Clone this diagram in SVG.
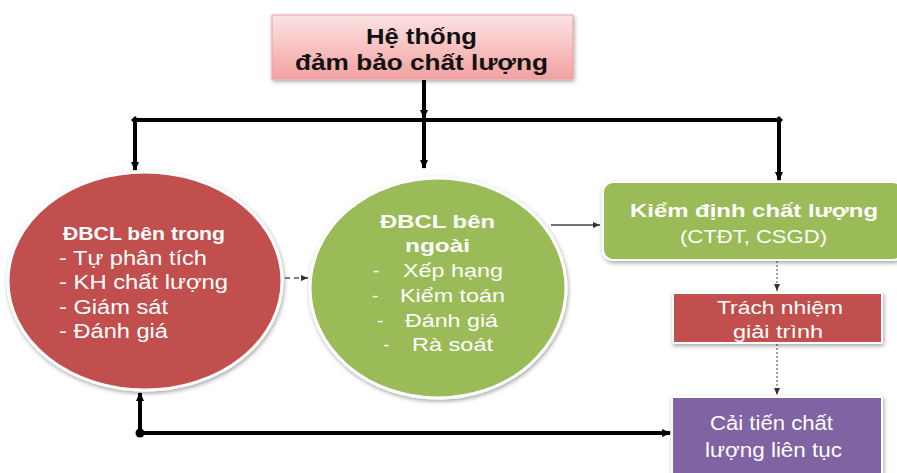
<svg xmlns="http://www.w3.org/2000/svg" width="897" height="473" viewBox="0 0 897 473">
<defs>
<linearGradient id="pink" x1="0" y1="0" x2="0" y2="1">
<stop offset="0" stop-color="#fce3e3"/>
<stop offset="1" stop-color="#f3a1a1"/>
</linearGradient>
<filter id="sh" x="-10%" y="-10%" width="120%" height="130%">
<feDropShadow dx="1" dy="2" stdDeviation="2" flood-color="#000" flood-opacity="0.35"/>
</filter>
<marker id="ah" markerWidth="10" markerHeight="10" refX="8" refY="5" orient="auto-start-reverse" markerUnits="userSpaceOnUse">
<path d="M0,1 L9,5 L0,9 Z" fill="#000"/>
</marker>
<marker id="ahs" markerWidth="8" markerHeight="8" refX="7" refY="4" orient="auto" markerUnits="userSpaceOnUse">
<path d="M0,1 L7,4 L0,7 Z" fill="#333"/>
</marker>
<marker id="dia" markerWidth="8" markerHeight="8" refX="4" refY="4" orient="auto" markerUnits="userSpaceOnUse">
<path d="M4,0 L8,4 L4,8 L0,4 Z" fill="#000"/>
</marker>
</defs>
<style>
text{font-family:"Liberation Sans",Arial,sans-serif;}
.w{fill:#fff;}
.b{font-weight:bold;}
.thick{stroke:#000;stroke-width:4;fill:none;}
.thin{stroke:#444;stroke-width:1.3;fill:none;}
.dash{stroke:#555;stroke-width:1.3;stroke-dasharray:5 4;fill:none;}
.dot{stroke:#666;stroke-width:1.2;stroke-dasharray:2 2;fill:none;}
</style>
<rect width="897" height="473" fill="#fff"/>

<g id="connectors">
<line class="thick" x1="424" y1="80" x2="424" y2="118" marker-end="url(#ah)"/>
<line class="thick" x1="135" y1="120" x2="779" y2="120" marker-start="url(#dia)" marker-end="url(#dia)"/>
<line class="thick" x1="135" y1="120" x2="135" y2="170" marker-end="url(#ah)"/>
<line class="thick" x1="424" y1="120" x2="424" y2="168" marker-end="url(#ah)"/>
<line class="thick" x1="779" y1="120" x2="779" y2="180" marker-end="url(#ah)"/>
<line class="dash" x1="285" y1="278" x2="308" y2="278" marker-end="url(#ahs)"/>
<line class="thin" x1="551" y1="225" x2="600" y2="225" marker-end="url(#ahs)"/>
<line class="dot" x1="777" y1="261" x2="777" y2="291" marker-end="url(#ahs)"/>
<line class="dot" x1="777" y1="344" x2="777" y2="395" marker-end="url(#ahs)"/>
<polyline class="thick" points="670,433 140,433 140,393" marker-start="url(#ah)" marker-end="url(#ah)"/>
<circle cx="140" cy="433" r="4.5" fill="#000"/>
</g>

<g id="title" filter="url(#sh)">
<rect x="272" y="15" width="301" height="64" fill="url(#pink)" stroke="#e9a0a0" stroke-width="1"/>
</g>
<g id="title-text">
<text x="366" y="44" class="b" font-size="22" fill="#111" textLength="111" lengthAdjust="spacingAndGlyphs">Hệ thống</text>
<text x="295" y="70" class="b" font-size="22" fill="#111" textLength="253" lengthAdjust="spacingAndGlyphs">đảm bảo chất lượng</text>
</g>

<g id="internal">
<ellipse cx="145" cy="281" rx="137" ry="109" fill="#c0504d" stroke="#fff" stroke-width="3" filter="url(#sh)"/>
<text x="63" y="240" class="b w" font-size="18" textLength="162" lengthAdjust="spacingAndGlyphs">ĐBCL bên trong</text>
<text x="59" y="265" class="w" font-size="20" textLength="148" lengthAdjust="spacingAndGlyphs">- Tự phân tích</text>
<text x="59" y="289" class="w" font-size="20" textLength="169" lengthAdjust="spacingAndGlyphs">- KH chất lượng</text>
<text x="59" y="314" class="w" font-size="20" textLength="109" lengthAdjust="spacingAndGlyphs">- Giám sát</text>
<text x="59" y="338" class="w" font-size="20" textLength="109" lengthAdjust="spacingAndGlyphs">- Đánh giá</text>
</g>

<g id="external">
<ellipse cx="438" cy="288" rx="128" ry="110" fill="#9bbb59" stroke="#fff" stroke-width="3" filter="url(#sh)"/>
<text x="380" y="228" class="b w" font-size="19" textLength="115" lengthAdjust="spacingAndGlyphs">ĐBCL bên</text>
<text x="405" y="252" class="b w" font-size="19" textLength="65" lengthAdjust="spacingAndGlyphs">ngoài</text>
<text y="277" class="w" font-size="19"><tspan x="373">-</tspan><tspan x="403" textLength="100" lengthAdjust="spacingAndGlyphs">Xếp hạng</tspan></text>
<text y="302" class="w" font-size="19"><tspan x="372">-</tspan><tspan x="400" textLength="105" lengthAdjust="spacingAndGlyphs">Kiểm toán</tspan></text>
<text y="327" class="w" font-size="19"><tspan x="377">-</tspan><tspan x="405" textLength="93" lengthAdjust="spacingAndGlyphs">Đánh giá</tspan></text>
<text y="351" class="w" font-size="19"><tspan x="383">-</tspan><tspan x="412" textLength="81" lengthAdjust="spacingAndGlyphs">Rà soát</tspan></text>
</g>

<g id="accreditation">
<rect x="603" y="182" width="300" height="78" rx="10" fill="#9bbb59" stroke="#fff" stroke-width="2" filter="url(#sh)"/>
<text x="630" y="217" class="b w" font-size="19" textLength="248" lengthAdjust="spacingAndGlyphs">Kiểm định chất lượng</text>
<text x="680" y="243" class="w" font-size="19" textLength="147" lengthAdjust="spacingAndGlyphs">(CTĐT, CSGD)</text>
</g>

<g id="accountability">
<rect x="673" y="293" width="209" height="50" fill="#c0504d" stroke="#fff" stroke-width="2" filter="url(#sh)"/>
<text x="717" y="314" class="w" font-size="19" textLength="126" lengthAdjust="spacingAndGlyphs">Trách nhiệm</text>
<text x="733" y="338" class="w" font-size="19" textLength="90" lengthAdjust="spacingAndGlyphs">giải trình</text>
</g>

<g id="improvement">
<rect x="672" y="397" width="210" height="80" fill="#8064a2" stroke="#fff" stroke-width="2" filter="url(#sh)"/>
<text x="710" y="430" class="w" font-size="20" textLength="123" lengthAdjust="spacingAndGlyphs">Cải tiến chất</text>
<text x="705" y="457" class="w" font-size="20" textLength="137" lengthAdjust="spacingAndGlyphs">lượng liên tục</text>
</g>
</svg>
